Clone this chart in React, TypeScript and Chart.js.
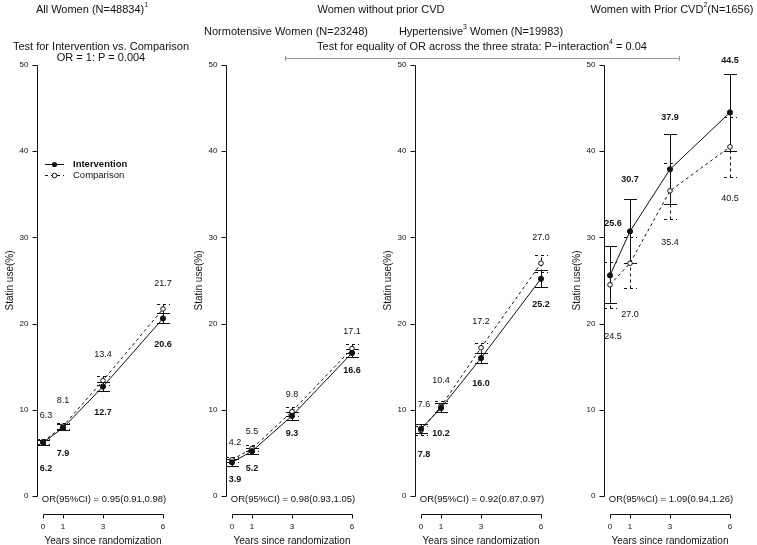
import React, { useEffect, useRef } from 'react';
import { Chart, registerables } from 'chart.js';
Chart.register(...registerables);

// ---------- data ----------
const years = [0, 1, 3, 6];
const xTickLabels = ['0', '1', '3', '6'];
const yTicks = [0, 10, 20, 30, 40, 50];

const allInt = [6.2, 7.9, 12.7, 20.6];
const allIntLo = [5.9, 7.6, 12.2, 20.1];
const allIntHi = [6.5, 8.3, 13.2, 21.2];
const allCmp = [6.3, 8.1, 13.4, 21.7];
const allCmpLo = [6.0, 7.8, 12.9, 21.2];
const allCmpHi = [6.6, 8.5, 13.9, 22.3];

const normInt = [3.9, 5.2, 9.3, 16.6];
const normIntLo = [3.5, 4.9, 8.8, 16.1];
const normIntHi = [4.3, 5.6, 9.8, 17.1];
const normCmp = [4.2, 5.5, 9.8, 17.1];
const normCmpLo = [3.9, 5.2, 9.3, 16.6];
const normCmpHi = [4.5, 5.9, 10.3, 17.6];

const hyperInt = [7.8, 10.2, 16.0, 25.2];
const hyperIntLo = [7.3, 9.7, 15.4, 24.2];
const hyperIntHi = [8.4, 10.8, 16.6, 26.2];
const hyperCmp = [7.6, 10.4, 17.2, 27.0];
const hyperCmpLo = [7.1, 9.8, 16.6, 26.0];
const hyperCmpHi = [8.1, 11.0, 17.8, 28.0];

const cvdInt = [25.6, 30.7, 37.9, 44.5];
const cvdIntLo = [22.4, 27.0, 33.9, 40.0];
const cvdIntHi = [29.0, 34.4, 42.0, 49.0];
const cvdCmp = [24.5, 27.0, 35.4, 40.5];
const cvdCmpLo = [21.8, 24.1, 32.1, 37.0];
const cvdCmpHi = [27.1, 30.0, 38.6, 44.0];

const orTexts = [
  'OR(95%CI) = 0.95(0.91,0.98)',
  'OR(95%CI) = 0.98(0.93,1.05)',
  'OR(95%CI) = 0.92(0.87,0.97)',
  'OR(95%CI) = 1.09(0.94,1.26)',
];

const seriesNames = ['Intervention', 'Comparison'];
const yTitle = 'Statin use(%)';
const xTitle = 'Years since randomization';

// ---------- layout ----------
const PANEL_W = 189;
const FONT = '"Liberation Sans", Arial, Helvetica, sans-serif';

type Panel = {
  left: number;
  int: number[]; intLo: number[]; intHi: number[];
  cmp: number[]; cmpLo: number[]; cmpHi: number[];
  or: string; gap: number; intAbove: boolean; legend: boolean;
};

const panels: Panel[] = [
  { left: 0, int: allInt, intLo: allIntLo, intHi: allIntHi, cmp: allCmp, cmpLo: allCmpLo, cmpHi: allCmpHi, or: orTexts[0], gap: 3, intAbove: false, legend: true },
  { left: 189, int: normInt, intLo: normIntLo, intHi: normIntHi, cmp: normCmp, cmpLo: normCmpLo, cmpHi: normCmpHi, or: orTexts[1], gap: 2, intAbove: false, legend: false },
  { left: 378, int: hyperInt, intLo: hyperIntLo, intHi: hyperIntHi, cmp: hyperCmp, cmpLo: hyperCmpLo, cmpHi: hyperCmpHi, or: orTexts[2], gap: 3, intAbove: false, legend: false },
  { left: 567, int: cvdInt, intLo: cvdIntLo, intHi: cvdIntHi, cmp: cvdCmp, cmpLo: cvdCmpLo, cmpHi: cvdCmpHi, or: orTexts[3], gap: 6, intAbove: true, legend: false },
];

const snap = (v: number) => Math.round(v) + 0.5;

function makePlugin(p: Panel) {
  const drawBars = (ctx: CanvasRenderingContext2D, chart: any, lo: number[], hi: number[], dashed: boolean) => {
    const xs = chart.scales.x, ys = chart.scales.y;
    ctx.save();
    ctx.strokeStyle = '#111';
    ctx.lineWidth = 1;
    ctx.setLineDash(dashed ? [3, 3] : []);
    years.forEach((yr, i) => {
      const px = snap(xs.getPixelForValue(yr));
      const a = snap(ys.getPixelForValue(lo[i]));
      const b = snap(ys.getPixelForValue(hi[i]));
      ctx.beginPath();
      ctx.moveTo(px, a); ctx.lineTo(px, b);
      ctx.moveTo(px - 6.5, a); ctx.lineTo(px + 6.5, a);
      ctx.moveTo(px - 6.5, b); ctx.lineTo(px + 6.5, b);
      ctx.stroke();
    });
    ctx.restore();
  };
  return {
    id: 'panelDecor',
    beforeDatasetsDraw(chart: any) {
      const ctx = chart.ctx as CanvasRenderingContext2D;
      drawBars(ctx, chart, p.cmpLo, p.cmpHi, true);
      drawBars(ctx, chart, p.intLo, p.intHi, false);
    },
    afterDatasetsDraw(chart: any) {
      const ctx = chart.ctx as CanvasRenderingContext2D;
      const xs = chart.scales.x, ys = chart.scales.y;
      const area = chart.chartArea;
      ctx.save();
      ctx.strokeStyle = '#111';
      ctx.fillStyle = '#111';
      ctx.lineWidth = 1;
      // y axis
      const ax = snap(area.left);
      ctx.beginPath();
      ctx.moveTo(ax, snap(ys.getPixelForValue(0)));
      ctx.lineTo(ax, snap(ys.getPixelForValue(50)));
      yTicks.forEach(t => {
        const py = snap(ys.getPixelForValue(t));
        ctx.moveTo(ax - 5, py); ctx.lineTo(ax, py);
      });
      ctx.stroke();
      ctx.font = `8px ${FONT}`;
      ctx.textAlign = 'right';
      ctx.textBaseline = 'middle';
      yTicks.forEach(t => ctx.fillText(String(t), ax - 9, ys.getPixelForValue(t)));
      // y title
      ctx.save();
      ctx.translate(area.left - 27, (area.top + area.bottom) / 2);
      ctx.rotate(-Math.PI / 2);
      ctx.textAlign = 'center';
      ctx.font = `10px ${FONT}`;
      ctx.fillText(yTitle, 0, 0);
      ctx.restore();
      // x axis (detached)
      const yx = snap(area.bottom + 18);
      ctx.beginPath();
      ctx.moveTo(snap(xs.getPixelForValue(years[0])), yx);
      ctx.lineTo(snap(xs.getPixelForValue(years[years.length - 1])), yx);
      years.forEach(yr => {
        const px = snap(xs.getPixelForValue(yr));
        ctx.moveTo(px, yx); ctx.lineTo(px, yx + 4);
      });
      ctx.stroke();
      ctx.textAlign = 'center';
      ctx.font = `8px ${FONT}`;
      years.forEach((yr, i) => ctx.fillText(xTickLabels[i], xs.getPixelForValue(yr), area.bottom + 31));
      ctx.font = `10px ${FONT}`;
      ctx.fillText(xTitle, xs.getPixelForValue(3), area.bottom + 45);
      // OR text
      ctx.font = `9.5px ${FONT}`;
      ctx.fillText(p.or, xs.getPixelForValue(3) + 1, ys.getPixelForValue(0) + 3);
      // value labels
      ctx.font = `bold 9px ${FONT}`;
      const sI = p.intAbove ? 1 : -1;
      years.forEach((yr, i) => {
        const px = xs.getPixelForValue(yr) + (i === 0 ? 3 : 0);
        ctx.fillText(p.int[i].toFixed(1), px, ys.getPixelForValue(p.int[i] + sI * p.gap));
      });
      ctx.font = `9px ${FONT}`;
      years.forEach((yr, i) => {
        const px = xs.getPixelForValue(yr) + (i === 0 ? 3 : 0);
        ctx.fillText(p.cmp[i].toFixed(1), px, ys.getPixelForValue(p.cmp[i] - sI * p.gap));
      });
      // legend
      if (p.legend) {
        const lx0 = 45, lx1 = 64, lxm = 54.5;
        const rows = [164, 175];
        ctx.beginPath();
        ctx.moveTo(lx0, snap(rows[0])); ctx.lineTo(lx1, snap(rows[0]));
        ctx.stroke();
        ctx.beginPath();
        ctx.arc(lxm, snap(rows[0]), 2.6, 0, Math.PI * 2);
        ctx.fill();
        ctx.save();
        ctx.setLineDash([3, 3]);
        ctx.beginPath();
        ctx.moveTo(lx0, snap(rows[1])); ctx.lineTo(lx1, snap(rows[1]));
        ctx.stroke();
        ctx.restore();
        ctx.beginPath();
        ctx.arc(lxm, snap(rows[1]), 2.3, 0, Math.PI * 2);
        ctx.fillStyle = '#fff';
        ctx.fill();
        ctx.stroke();
        ctx.fillStyle = '#111';
        ctx.textAlign = 'left';
        ctx.font = `bold 9.5px ${FONT}`;
        ctx.fillText(seriesNames[0], 73, rows[0]);
        ctx.font = `9.5px ${FONT}`;
        ctx.fillText(seriesNames[1], 73, rows[1]);
      }
      ctx.restore();
    },
  };
}

function makeConfig(p: Panel): any {
  return {
    type: 'line',
    data: {
      datasets: [
        {
          label: seriesNames[0],
          data: years.map((x, i) => ({ x, y: p.int[i] })),
          borderColor: '#111', borderWidth: 1, tension: 0, fill: false,
          pointRadius: 2.6, pointBackgroundColor: '#111', pointBorderColor: '#111', pointBorderWidth: 1,
          order: 0,
        },
        {
          label: seriesNames[1],
          data: years.map((x, i) => ({ x, y: p.cmp[i] })),
          borderColor: '#111', borderWidth: 1, borderDash: [3, 3], tension: 0, fill: false,
          pointRadius: 2.3, pointBackgroundColor: '#fff', pointBorderColor: '#111', pointBorderWidth: 1,
          order: 1,
        },
      ],
    },
    options: {
      animation: false,
      responsive: false,
      maintainAspectRatio: false,
      devicePixelRatio: 1,
      clip: false,
      layout: { padding: { left: 37, right: 20, top: 65, bottom: 49 } },
      scales: {
        x: { type: 'linear', min: -0.3, max: 6.3, display: false },
        y: { type: 'linear', min: 0, max: 50, display: false },
      },
      plugins: { legend: { display: false }, tooltip: { enabled: false } },
    },
    plugins: [makePlugin(p)],
  };
}

const hdr = (cx: number, cy: number, w: number): React.CSSProperties => ({
  position: 'absolute', left: cx - w / 2, top: cy - 7, width: w, height: 14,
  lineHeight: '14px', textAlign: 'center', fontSize: 11, whiteSpace: 'nowrap', color: '#111',
});
const sup: React.CSSProperties = { fontSize: 7, verticalAlign: 'top', lineHeight: '8px', position: 'relative', top: -1 };

export default function App() {
  const refs = useRef<(HTMLCanvasElement | null)[]>([]);
  useEffect(() => {
    const charts = panels.map((p, k) => new Chart(refs.current[k] as HTMLCanvasElement, makeConfig(p)));
    return () => charts.forEach(c => c.destroy());
  }, []);
  return (
    <div style={{ position: 'absolute', left: 0, top: 0, width: 757, height: 545, background: '#fff', fontFamily: FONT, overflow: 'hidden' }}>
      {panels.map((p, k) => (
        <canvas key={k} ref={el => { refs.current[k] = el; }} width={PANEL_W} height={545}
          style={{ position: 'absolute', left: p.left, top: 0, width: PANEL_W, height: 545 }} />
      ))}
      <div style={hdr(92, 9, 200)}>All Women (N=48834)<span style={sup}>1</span></div>
      <div style={hdr(381, 9, 220)}>Women without prior CVD</div>
      <div style={hdr(672, 9, 200)}>Women with Prior CVD<span style={sup}>2</span>(N=1656)</div>
      <div style={hdr(286, 31, 200)}>Normotensive Women (N=23248)</div>
      <div style={hdr(481, 31, 200)}>Hypertensive<span style={sup}>3</span> Women (N=19983)</div>
      <div style={hdr(101, 46, 200)}>Test for Intervention vs. Comparison</div>
      <div style={hdr(101, 57, 200)}>OR = 1: P = 0.004</div>
      <div style={hdr(482, 46, 420)}>Test for equality of OR across the three strata: P−interaction<span style={sup}>4</span> = 0.04</div>
      <div style={{ position: 'absolute', left: 285, top: 58, width: 395, height: 1, background: '#999' }} />
      <div style={{ position: 'absolute', left: 285, top: 56, width: 1, height: 5, background: '#999' }} />
      <div style={{ position: 'absolute', left: 679, top: 56, width: 1, height: 5, background: '#999' }} />
    </div>
  );
}
